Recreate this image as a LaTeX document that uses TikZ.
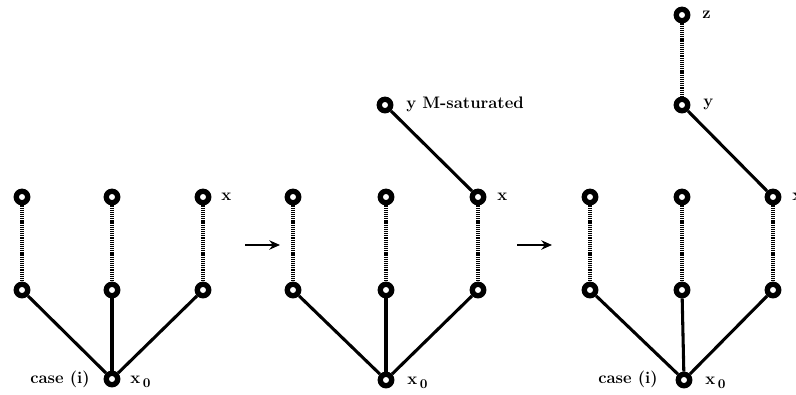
\documentclass[tikz,border=0pt]{standalone}
\usepackage{fontspec}
\usetikzlibrary{arrows.meta}
\newcommand{\subzero}{\raisebox{-3.5pt}{\fontsize{10}{12}\selectfont\bfseries 0}}
\begin{document}
\begin{tikzpicture}[x=0.75pt,y=-0.75pt,
  vert/.style={circle,draw=black,fill=white,line width=4pt,minimum size=8.6pt,inner sep=0pt},
  solidedge/.style={line width=2.3pt},
  matchedge/.style={line width=3pt,dash pattern=on 0.9pt off 0.7pt},
  lbl/.style={inner sep=0pt,font=\fontsize{12.5}{15}\selectfont\bfseries},
  step arrow/.style={line width=1.6pt,-{Stealth[length=8pt,width=7pt]}}]
\useasboundingbox (0,0) rectangle (796,394);
% ---------- left tree ----------
\node[vert] (La1) at (22,197) {};
\node[vert] (La2) at (112,197) {};
\node[vert] (La3) at (203,197) {};
\node[vert] (Lb1) at (22,290) {};
\node[vert] (Lb2) at (112,290) {};
\node[vert] (Lb3) at (203,290) {};
\node[vert] (Lr) at (112,379) {};
\draw[matchedge] (La1) -- (Lb1);
\draw[matchedge] (La2) -- (Lb2);
\draw[matchedge] (La3) -- (Lb3);
\draw[solidedge] (Lb1) -- (Lr);
\draw[solidedge] (Lb2) -- (Lr);
\draw[solidedge] (Lb3) -- (Lr);
\node[lbl,anchor=west] (Lx) at (221,197) {x};
\node[lbl,anchor=base west] (Lx0) at (130,383) {x\,\subzero};
\node[lbl,anchor=base east] (Lcase) at (90,383) {case (i)};
% ---------- arrow 1 ----------
\coordinate (A1s) at (245,245);
\coordinate (A1e) at (280,245);
\draw[step arrow] (A1s) -- (A1e);
% ---------- middle tree ----------
\node[vert] (Ma1) at (293,197) {};
\node[vert] (Ma2) at (386,197) {};
\node[vert] (Ma3) at (478,197) {};
\node[vert] (Mb1) at (293,290) {};
\node[vert] (Mb2) at (386,290) {};
\node[vert] (Mb3) at (478,290) {};
\node[vert] (Mr) at (386,380) {};
\node[vert] (My) at (385,105) {};
\draw[matchedge] (Ma1) -- (Mb1);
\draw[matchedge] (Ma2) -- (Mb2);
\draw[matchedge] (Ma3) -- (Mb3);
\draw[solidedge] (Mb1) -- (Mr);
\draw[solidedge] (Mb2) -- (Mr);
\draw[solidedge] (Mb3) -- (Mr);
\draw[solidedge] (My) -- (Ma3);
\node[lbl,anchor=west] (Mx) at (497,197) {x};
\node[lbl,anchor=west] (Myl) at (406,104) {y M-saturated};
\node[lbl,anchor=base west] (Mx0) at (407,384) {x\,\subzero};
% ---------- arrow 2 ----------
\coordinate (A2s) at (517,245);
\coordinate (A2e) at (552,245);
\draw[step arrow] (A2s) -- (A2e);
% ---------- right tree ----------
\node[vert] (Ra1) at (590,197) {};
\node[vert] (Ra2) at (682,197) {};
\node[vert] (Ra3) at (773,197) {};
\node[vert] (Rb1) at (590,290) {};
\node[vert] (Rb2) at (682,290) {};
\node[vert] (Rb3) at (773,290) {};
\node[vert] (Rr) at (684,380) {};
\node[vert] (Ry) at (682,105) {};
\node[vert] (Rz) at (682,15) {};
\draw[matchedge] (Ra1) -- (Rb1);
\draw[matchedge] (Ra2) -- (Rb2);
\draw[matchedge] (Ra3) -- (Rb3);
\draw[matchedge] (Rz) -- (Ry);
\draw[solidedge] (Rb1) -- (Rr);
\draw[solidedge] (Rb2) -- (Rr);
\draw[solidedge] (Rb3) -- (Rr);
\draw[solidedge] (Ry) -- (Ra3);
\node[lbl,anchor=west] (Rx) at (792,197) {x};
\node[lbl,anchor=west] (Ryl) at (703,104) {y};
\node[lbl,anchor=west] (Rzl) at (702,15) {z};
\node[lbl,anchor=base west] (Rx0) at (705,384) {x\,\subzero};
\node[lbl,anchor=base east] (Rcase) at (658,383) {case (i)};
\end{tikzpicture}
\end{document}
